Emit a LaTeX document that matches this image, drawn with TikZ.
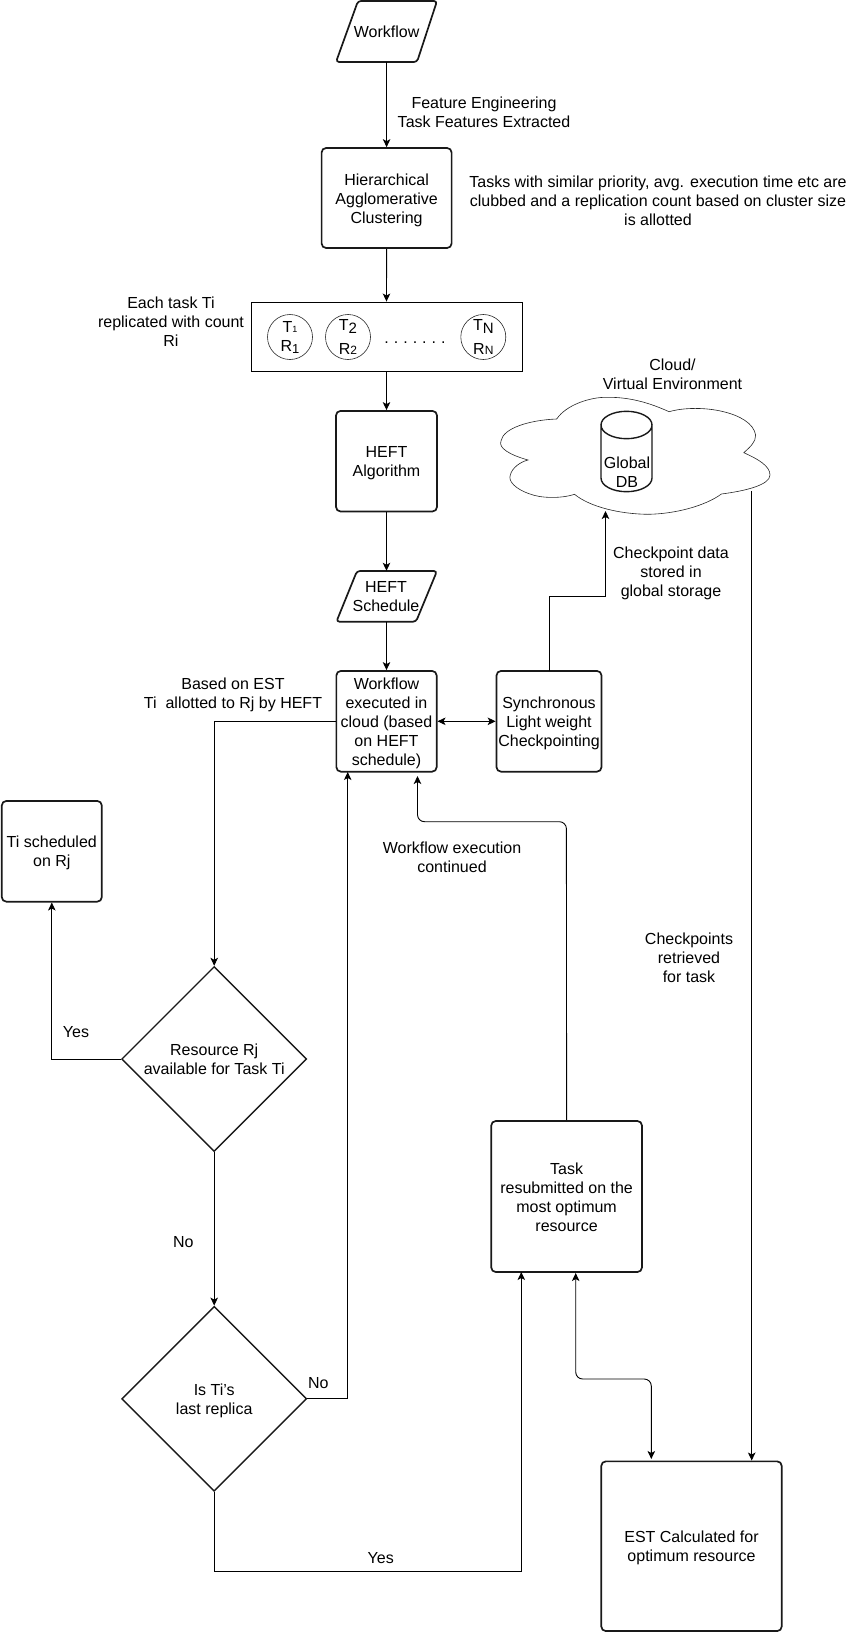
\documentclass[tikz,border=0pt]{standalone}
\usepackage{fontspec}
\setmainfont{Liberation Sans}
\usetikzlibrary{arrows.meta,shapes.geometric}
\newcommand{\sbx}[4]{#1\raisebox{#4}{\fontsize{#3}{#3}\selectfont #2}}
\newcommand{\tstr}{\rule{0pt}{16pt}}
\newcommand{\bstr}{\rule[-4pt]{0pt}{4pt}}
\tikzset{
  x=1pt,y=-1pt,
  txt/.style={align=center,inner sep=0pt,font=\fontsize{16}{19}\selectfont},
  boxn/.style={txt,draw=black!90,line width=1.7pt,rounded corners=4.5pt,minimum width=#1},
  boxn/.default=100pt,
  ghost/.style={inner sep=0pt,outer sep=0pt},
  thick line/.style={draw=black!90,line width=1.7pt,line join=round},
  thin line/.style={draw=black!85,line width=0.6pt},
  conn/.style={draw=black,line width=0.9pt},
  arr/.style={conn,-{Stealth[length=8pt,width=7.5pt,inset=2pt]}},
  darr/.style={conn,{Stealth[length=8pt,width=7.5pt,inset=2pt]}-{Stealth[length=8pt,width=7.5pt,inset=2pt]}},
  dec/.style={txt,draw=black!90,line width=1.4pt,shape=diamond,minimum width=185pt,minimum height=185pt,aspect=1},
  circ/.style={txt,draw=black!85,line width=0.6pt,circle,minimum size=45pt}
}
\begin{document}
\begin{tikzpicture}
\useasboundingbox (0,0) rectangle (859,1632);
% parallelogram Workflow
\node[ghost,minimum width=100pt,minimum height=61pt] (wf) at (386.6,31.5) {};
\draw[thick line,rounded corners=3pt] (358,1) -- (437,1) -- (417,62) -- (336,62) -- cycle;
\node[txt] (wft) at (386.6,32) {\tstr Workflow\bstr};
% HAC
\node[boxn=130pt,minimum height=100pt] (hac) at (386.6,198) {\tstr Hierarchical\\Agglomerative\\Clustering\bstr};
% replica list
\node[draw=black,line width=0.9pt,minimum width=271pt,minimum height=69pt,inner sep=0pt] (lst) at (386.5,336.5) {};
\node[circ] (c1) at (290,337) {\sbx{T}{1}{9}{0pt}\\\sbx{R}{1}{13}{-2pt}};
\node[circ] (c2) at (348,337) {\sbx{T}{2}{15}{-3pt}\\[5pt]\sbx{R}{2}{12}{0pt}};
\node[circ] (c3) at (483.3,337) {\sbx{T}{N}{15}{-3pt}\\[5pt]\sbx{R}{N}{12}{0pt}};
\node[txt] (dots) at (415,337.5) {\tstr .\hspace{5pt}.\hspace{5pt}.\hspace{5pt}.\hspace{5pt}.\hspace{5pt}.\hspace{5pt}.\bstr};
% HEFT
\node[boxn=101pt,minimum height=100.5pt] (heft) at (386.5,461.2) {\tstr HEFT\\Algorithm\bstr};
\node[ghost,minimum width=101pt,minimum height=51pt] (sch) at (386.5,596.3) {};
\draw[thick line,rounded corners=3pt] (357,571) -- (437,571) -- (416,621.7) -- (336.4,621.7) -- cycle;
\node[txt] (scht) at (386,595.5) {\tstr HEFT\\Schedule\bstr};
% workflow exec + sync
\node[boxn=100.3pt,minimum height=100.7pt] (wx) at (386.5,721.3) {\tstr Workflow\\executed in\\cloud (based\\on HEFT\\schedule)\bstr};
\node[boxn=105pt,minimum height=100.7pt] (syn) at (549,721.3) {\tstr Synchronous\\Light weight\\Checkpointing\bstr};
% cloud
\draw[thin line] (528,460)
 .. controls (510,455) and (498,448) .. (501,441)
 .. controls (503,428) and (530,420) .. (556.7,419)
 .. controls (566,405) and (590,397) .. (607,397.3)
 .. controls (630,397) and (650,403) .. (669,411.7)
 .. controls (700,403) and (752,412) .. (755.6,435)
 .. controls (756,442) and (750,447) .. (743.8,452.7)
 .. controls (758,459) and (770,466) .. (770,475)
 .. controls (770,485) and (745,491) .. (721.4,494)
 .. controls (705,506) and (675,514) .. (647.6,514.3)
 .. controls (620,514) and (590,507) .. (574.5,494.3)
 .. controls (560,499) and (540,498) .. (530,494)
 .. controls (515,489) and (508,481) .. (510.3,475)
 .. controls (512,468) and (520,462) .. (528,460) -- cycle;
\coordinate (cloudin) at (605.5,511);
\coordinate (cloudout) at (751.7,491);
% database
\draw[thick line,line width=1.4pt] (601,425) arc[start angle=180,end angle=360,x radius=25.5pt,y radius=13.7pt]
   -- (652,478) arc[start angle=0,end angle=180,x radius=25.5pt,y radius=-13.7pt] -- cycle;
\draw[thick line,line width=1.4pt] (601,425) arc[start angle=180,end angle=0,x radius=25.5pt,y radius=13.7pt];
\node[txt] (db) at (627,472) {\tstr Global\\DB\bstr};
% left side
\node[boxn=100pt,minimum height=100.7pt] (sched) at (51.8,851.3) {\tstr Ti scheduled\\on Rj\bstr};
\node[dec] (d1) at (214.2,1059) {\tstr Resource Rj\\available for Task Ti\bstr};
\node[dec] (d2) at (214.2,1398.8) {\tstr Is Ti's\\last replica\bstr};
% right side
\node[boxn=150.7pt,minimum height=151pt] (task) at (566.6,1196.5) {\tstr Task\\resubmitted on the\\most optimum\\resource\bstr};
\node[boxn=180.4pt,minimum height=169.7pt] (est) at (691.5,1546.2) {\tstr EST Calculated for\\optimum resource\bstr};
% connectors
\draw[arr] (wf.south) -- (hac.north);
\draw[arr] (hac.south) -- (lst.north);
\draw[arr] (lst.south) -- (heft.north);
\draw[arr] (heft.south) -- (sch.north);
\draw[arr] (sch.south) -- (wx.north);
\draw[darr] (wx.east) -- (wx.east -| syn.west);
\coordinate (synout) at (549,670.9);
\draw[arr] (synout) -- (549,596) -- (605.5,596) -- (cloudin);
\draw[arr] (cloudout) -- (cloudout |- est.north);
\draw[arr] (wx.west) -| (d1.north);
\draw[arr] (d1.west) -| (sched.south);
\draw[arr] (d1.south) -- (d2.north);
\coordinate (wxin) at (347.7,772);
\draw[arr] (d2.east) -| (wxin);
\coordinate (taskin) at (521.3,1272);
\draw[arr] (d2.south) |- (521.3,1571.5) -- (taskin);
\coordinate (wxback) at (417.5,776);
\draw[arr,rounded corners=7pt] (task.north) -- (566.4,821.7) -- (417.5,821.7) -- (wxback);
\coordinate (taskb) at (575.7,1273);
\coordinate (estin) at (651.3,1459);
\draw[darr,rounded corners=7pt] (taskb) -- (575.7,1379) -- (651.3,1379) -- (estin);
% labels
\node[txt] (l1) at (484,112) {\tstr Feature Engineering\\Task Features Extracted\bstr};
\node[txt] (l2) at (658,200.7) {\tstr Tasks with similar priority, avg. execution time etc are\\clubbed and a replication count based on cluster size\\is allotted\bstr};
\node[txt] (l3) at (171,321.7) {\tstr Each task Ti\\replicated with count\\Ri\bstr};
\node[txt] (l4) at (672.5,373.5) {\tstr Cloud/\\Virtual Environment\bstr};
\node[txt] (l5) at (671,571) {\tstr Checkpoint data\\stored in\\global storage\bstr};
\node[txt] (l6) at (233,692.5) {\tstr Based on EST\\Ti\ \ allotted to Rj by HEFT\bstr};
\node[txt] (l7) at (452,857) {\tstr Workflow execution\\continued\bstr};
\node[txt] (l8) at (689,957.2) {\tstr Checkpoints\\retrieved\\for task\bstr};
\node[txt] (l9) at (76,1031) {\tstr Yes\bstr};
\node[txt] (l10) at (183.3,1241) {\tstr No\bstr};
\node[txt] (l11) at (318.3,1382) {\tstr No\bstr};
\node[txt] (l12) at (380.7,1557) {\tstr Yes\bstr};
\end{tikzpicture}
\end{document}
